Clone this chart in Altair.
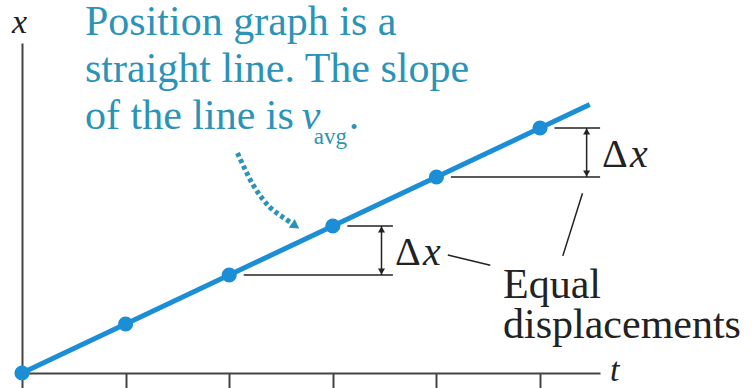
import altair as alt
import pandas as pd

# Motion at constant velocity: equal displacement in each equal time step
times = [0, 1, 2, 3, 4, 5]
positions = [0, 1, 2, 3, 4, 5]
line_end = 5.48          # the drawn line runs a little past the last point

# Note text (blue) and its pointer
note_lines = ["Position graph is a", "straight line. The slope", "of the line is"]
pointer_t = [2.08, 2.23, 2.39, 2.56, 2.64]
pointer_x = [4.49, 3.84, 3.39, 3.12, 3.0]

# Two displacement brackets: (from position, to position, bracket t, guide end t)
bracket_from = [2, 4]
bracket_to = [3, 5]
bracket_t = [3.47, 5.45]
guide_end = [3.58, 5.58]

BLUE = "#1b8ed6"
NOTE = "#2c93b8"
INK = "#222222"
AXIS = "#444444"
SERIF = "Liberation Serif"

T_MAX = 5.579
X_MAX = 6.735

xs = alt.Scale(domain=[0, T_MAX], nice=False, zero=False)
ys = alt.Scale(domain=[0, X_MAX], nice=False, zero=False)
x_axis = alt.Axis(values=times, tickSize=15, tickWidth=2, tickColor=AXIS,
                  domainColor=AXIS, domainWidth=2, labels=False, title=None, grid=False)
y_axis = alt.Axis(domainColor=AXIS, domainWidth=2, ticks=False, labels=False,
                  title=None, grid=False)


def X(f="t"):
    return alt.X(f"{f}:Q", scale=xs, axis=x_axis)


def Y(f="x"):
    return alt.Y(f"{f}:Q", scale=ys, axis=y_axis)


def label(df, **kw):
    base = dict(font=SERIF, align="left", baseline="alphabetic")
    base.update(kw)
    return alt.Chart(df).mark_text(**base)


# position line
line_df = pd.DataFrame({"t": times + [line_end], "x": positions + [line_end]})
line = alt.Chart(line_df).mark_line(color=BLUE, strokeWidth=5).encode(x=X(), y=Y())

pts = alt.Chart(pd.DataFrame({"t": times, "x": positions})).mark_circle(
    color=BLUE, size=230, opacity=1).encode(x=X(), y=Y())

# horizontal guide lines at each bracketed position
guides = []
for a, b, e in zip(bracket_from, bracket_to, guide_end):
    guides.append({"t": a + 0.14, "t2": e, "x": a})
    guides.append({"t": b + 0.14, "t2": e, "x": b})
guide_df = pd.DataFrame(guides)
guide_rules = alt.Chart(guide_df).mark_rule(color=INK, strokeWidth=1.5).encode(
    x=X(), x2="t2:Q", y=Y())

br_df = pd.DataFrame({"t": bracket_t, "x": bracket_from, "x2": bracket_to})
br_rules = alt.Chart(br_df).mark_rule(color=INK, strokeWidth=1.5).encode(
    x=X(), y=Y(), y2="x2:Q")
heads_up = alt.Chart(br_df).mark_point(shape="triangle-up", filled=True, color=INK,
                                       size=50, opacity=1, yOffset=3.5).encode(x=X(), y=Y("x2"))
heads_dn = alt.Chart(br_df).mark_point(shape="triangle-down", filled=True, color=INK,
                                       size=50, opacity=1, yOffset=-3.5).encode(x=X(), y=Y())

# Δx labels beside each bracket
lab_df = pd.DataFrame({"t": guide_end,
                       "x": [(a + b) / 2 - 0.3 for a, b in zip(bracket_from, bracket_to)]})
delta = label(lab_df, text="Δ", fontSize=40, color=INK, dx=2).encode(x=X(), y=Y())
delta_x = label(lab_df, text="x", fontSize=40, fontStyle="italic", color=INK,
                dx=30).encode(x=X(), y=Y())

# leader lines to the "Equal displacements" caption
lead_df = pd.DataFrame({"t": [4.11, 5.41], "x": [2.41, 3.67],
                        "t2": [4.52, 5.22], "x2": [2.20, 2.39]})
leaders = alt.Chart(lead_df).mark_rule(color=INK, strokeWidth=1.5).encode(
    x=X(), y=Y(), x2="t2:Q", y2="x2:Q")

cap_df = pd.DataFrame({"t": [4.643, 4.643], "x": [1.53, 0.714],
                       "txt": ["Equal", "displacements"]})
caption = label(cap_df, fontSize=42, color=INK).encode(x=X(), y=Y(), text="txt:N")

# blue note
note_df = pd.DataFrame({"t": [0.608] * 3, "x": [6.9, 5.94, 4.98], "txt": note_lines})
note = label(note_df, fontSize=42, color=NOTE).encode(x=X(), y=Y(), text="txt:N")
v_df = pd.DataFrame({"t": [2.70], "x": [4.98]})
note_v = label(v_df, text="v", fontSize=42, fontStyle="italic", color=NOTE).encode(x=X(), y=Y())
note_sub = label(v_df, text="avg", fontSize=23, color=NOTE, dx=12, dy=15).encode(x=X(), y=Y())
note_dot = label(v_df, text=".", fontSize=42, color=NOTE, dx=47).encode(x=X(), y=Y())

ptr_df = pd.DataFrame({"t": pointer_t, "x": pointer_x})
pointer = alt.Chart(ptr_df).mark_line(color=NOTE, strokeWidth=5, strokeDash=[4, 3],
                                      interpolate="cardinal", strokeCap="butt").encode(x=X(), y=Y())
ptr_head = alt.Chart(ptr_df.tail(1)).mark_point(shape="triangle-right", filled=True, color=NOTE,
                                                size=110, opacity=1, angle=34).encode(x=X(), y=Y())

# axis names
ax_df = pd.DataFrame({"t": [-0.097, 5.676], "x": [6.94, -0.16], "txt": ["x", "t"]})
ax_names = label(ax_df, fontSize=34, fontStyle="italic", color=INK).encode(
    x=X(), y=Y(), text="txt:N")

chart = alt.layer(
    line, guide_rules, br_rules, heads_up, heads_dn, leaders, pts,
    delta, delta_x, caption, note, note_v, note_sub, note_dot, pointer, ptr_head, ax_names,
).properties(
    width=578, height=330,
    padding={"left": 22, "top": 43, "right": 152, "bottom": 15},
    autosize="none", background="white",
).configure_view(stroke=None).configure_text(font=SERIF)

chart.save("out.html", embed_options={"renderer": "svg", "actions": False})
